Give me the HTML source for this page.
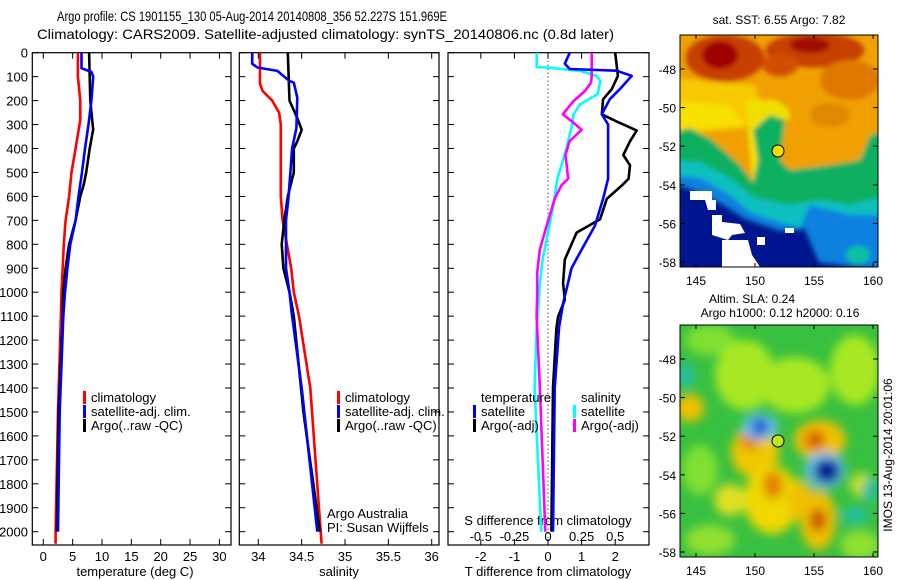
<!DOCTYPE html>
<html><head><meta charset="utf-8"><style>
html,body{margin:0;padding:0;background:#fff;width:900px;height:580px;overflow:hidden}
svg{display:block;font-family:"Liberation Sans",sans-serif;}
text{font-size:13px;fill:#000}
</style></head><body>
<svg id="chart" width="900" height="580" viewBox="0 0 900 580" xmlns="http://www.w3.org/2000/svg">
<defs>
<filter id="b1"><feGaussianBlur stdDeviation="2.5"/></filter>
<filter id="b2"><feGaussianBlur stdDeviation="5"/></filter>
<clipPath id="c1"><rect x="680" y="35" width="198" height="232"/></clipPath>
<clipPath id="c2"><rect x="680" y="325" width="198" height="232"/></clipPath>
</defs>
<text x="57" y="21" textLength="390" lengthAdjust="spacingAndGlyphs" style="font-size:14px">Argo profile: CS 1901155_130 05-Aug-2014 20140808_356 52.227S 151.969E</text>
<text x="37" y="39" textLength="577" lengthAdjust="spacingAndGlyphs" style="font-size:14px">Climatology: CARS2009. Satellite-adjusted climatology: synTS_20140806.nc (0.8d later)</text>

<!-- SST map -->
<g clip-path="url(#c1)">
 <g filter="url(#b1)">
 <rect x="670" y="25" width="220" height="260" fill="#f0a000"/>
 <ellipse cx="725" cy="58" rx="40" ry="24" fill="#c84000"/>
 <ellipse cx="720" cy="55" rx="18" ry="14" fill="#a00000"/>
 <ellipse cx="815" cy="50" rx="50" ry="18" fill="#c84000"/>
 <ellipse cx="810" cy="45" rx="20" ry="8" fill="#a01000"/>
 <ellipse cx="780" cy="65" rx="18" ry="12" fill="#d05000"/>
 <ellipse cx="850" cy="80" rx="30" ry="20" fill="#e07800"/>
 <ellipse cx="830" cy="115" rx="20" ry="12" fill="#e08800"/>
 <polygon points="670,78 755,85 760,100 745,128 670,135" fill="#f8c800"/>
 <polygon points="670,100 730,105 745,125 670,132" fill="#f8e000"/>
 <polygon points="745,100 775,100 788,108 790,120 770,118 760,140 765,175 753,185" fill="#f0e000"/>
 <polygon points="670,133 690,128 712,140 740,165 753,182 758,160 753,130 770,115 785,120 780,160 790,170 830,165 860,160 870,135 890,130 890,285 670,285" fill="#10b060"/>
 <polygon points="670,160 700,162 730,178 755,198 790,205 820,200 850,205 890,195 890,285 670,285" fill="#10c0c0"/>
 <polygon points="670,175 700,178 730,195 750,212 780,222 800,228 810,205 850,215 890,215 890,285 670,285" fill="#1080e0"/>
 <polygon points="670,182 695,190 725,205 745,218 780,230 805,228 820,262 890,270 890,285 670,285" fill="#001890"/>
 <ellipse cx="858" cy="255" rx="12" ry="9" fill="#10c0a0"/>
 </g>
 <g fill="#fff">
 <polygon points="690,191 712,191 712,200 716,200 716,210 708,210 705,200 690,200"/>
 <polygon points="712,215 722,215 722,222 740,224 745,233 732,235 728,240 712,235"/>
 <polygon points="722,240 748,240 752,255 760,267 722,267"/>
 <rect x="757" y="237" width="8" height="8"/><rect x="785" y="228" width="9" height="5"/>
 </g>
 <circle cx="778" cy="151" r="6" fill="#f0e000" stroke="#000"/>
</g>
<rect x="680" y="35" width="198" height="232" fill="none" stroke="#000"/>
<text x="779" y="24" text-anchor="middle" style="font-size:12px">sat. SST: 6.55 Argo: 7.82</text>

<!-- SLA map -->
<g clip-path="url(#c2)">
 <rect x="670" y="315" width="220" height="260" fill="#38c040"/>
 <g filter="url(#b2)">
 <ellipse cx="710" cy="340" rx="25" ry="15" fill="#80e030"/>
 <ellipse cx="745" cy="375" rx="30" ry="35" fill="#a8e820"/>
 <ellipse cx="795" cy="385" rx="35" ry="28" fill="#a8e820"/>
 <ellipse cx="855" cy="370" rx="25" ry="35" fill="#a8e820"/>
 <ellipse cx="700" cy="470" rx="18" ry="25" fill="#80e030"/>
 <ellipse cx="710" cy="540" rx="25" ry="15" fill="#90e030"/>
 <ellipse cx="860" cy="545" rx="20" ry="15" fill="#90e030"/>
 <ellipse cx="690" cy="408" rx="14" ry="14" fill="#f0c000"/>
 <ellipse cx="755" cy="452" rx="24" ry="26" fill="#f0c800"/>
 <ellipse cx="772" cy="500" rx="28" ry="34" fill="#f0d800"/>
 <ellipse cx="750" cy="440" rx="10" ry="10" fill="#e08000"/>
 <ellipse cx="773" cy="485" rx="10" ry="14" fill="#e08000"/>
 <ellipse cx="800" cy="500" rx="12" ry="20" fill="#f0c000"/>
 <ellipse cx="820" cy="440" rx="26" ry="20" fill="#f0c000"/>
 <ellipse cx="815" cy="440" rx="10" ry="10" fill="#d86000"/>
 <ellipse cx="818" cy="520" rx="18" ry="30" fill="#f0c000"/>
 <ellipse cx="818" cy="520" rx="8" ry="12" fill="#c85000"/>
 <ellipse cx="730" cy="500" rx="16" ry="16" fill="#e0e020"/>
 <ellipse cx="862" cy="485" rx="12" ry="12" fill="#d0e020"/>
 <ellipse cx="760" cy="427" rx="18" ry="13" fill="#60c0f0"/>
 <ellipse cx="760" cy="427" rx="8" ry="9" fill="#2050d0"/>
 <ellipse cx="825" cy="470" rx="20" ry="18" fill="#60c0f0"/>
 <ellipse cx="827" cy="471" rx="13" ry="12" fill="#001890"/>
 <ellipse cx="685" cy="375" rx="10" ry="12" fill="#20c0a0"/>
 <ellipse cx="855" cy="515" rx="14" ry="8" fill="#20c0a0"/>
 <ellipse cx="870" cy="490" rx="8" ry="12" fill="#20c0a0"/>
 </g>
 <circle cx="778" cy="441" r="6" fill="#c0e820" stroke="#000"/>
</g>
<rect x="680" y="325" width="198" height="232" fill="none" stroke="#000"/>
<text x="752" y="303" text-anchor="middle" style="font-size:12px">Altim. SLA: 0.24</text>
<text x="780" y="317" text-anchor="middle" style="font-size:12px">Argo h1000: 0.12 h2000: 0.16</text>
<text transform="translate(892,455) rotate(-90)" text-anchor="middle" style="font-size:12px">IMOS 13-Aug-2014 20:01:06</text>
<g id="mapaxes"></g>

<g id="panels"></g>
</svg>
<script>
const NS="http://www.w3.org/2000/svg";
const svg=document.getElementById('chart');
const G=document.getElementById('panels');
// ---- data ----
const depthTicks=[0,100,200,300,400,500,600,700,800,900,1000,1100,1200,1300,1400,1500,1600,1700,1800,1900,2000];
const tempTicks=[0,5,10,15,20,25,30];
const salTicks=[34,34.5,35,35.5,36];
const salTickLabels=['34','34.5','35','35.5','36'];
const tdiffTicks=[-2,-1,0,1,2];
const sdiffTicks=[-0.5,-0.25,0,0.25,0.5];
const sdiffTickLabels=['-0.5','-0.25','0','0.25','0.5'];
const tClimDepth=[0,100,200,280,400,500,600,700,800,900,1000,1100,1500,2000,2050];
const tClim=[5.9,5.9,6.3,6.3,5.5,4.8,4.4,3.8,3.5,3.3,3.1,3.0,2.5,2.1,2.1];
const tSatDepth=[0,65,80,100,200,300,400,500,600,700,800,900,1000,1100,1500,2000];
const tSat=[6.5,6.5,8.2,8.5,8.2,7.7,7.1,6.6,6.0,5.5,4.6,4.1,3.7,3.4,2.8,2.5];
const tArgoDepth=[0,100,200,300,320,400,500,550,600,700,800,900,1000,1100,1500,2000];
const tArgo=[7.8,7.9,8.0,8.4,8.5,7.9,7.3,6.9,6.3,5.5,4.4,3.8,3.4,3.3,2.6,2.3];
const sClimDepth=[0,130,160,200,250,300,600,700,800,900,1000,1100,1400,2000,2050];
const sClim=[34.02,34.02,34.05,34.16,34.24,34.26,34.26,34.28,34.33,34.38,34.41,34.47,34.6,34.72,34.73];
const sSatDepth=[0,46,62,76,118,125,188,315,400,500,600,700,800,900,1000,1100,1400,2000];
const sSat=[33.93,33.93,33.99,34.22,34.36,34.41,34.45,34.44,34.39,34.37,34.35,34.32,34.32,34.32,34.36,34.39,34.5,34.68];
const sArgoDepth=[0,200,273,322,370,400,500,600,700,800,900,1000,1100,1500,2000];
const sArgo=[34.34,34.36,34.45,34.50,34.45,34.41,34.41,34.34,34.30,34.27,34.29,34.36,34.41,34.52,34.71];
const dTSatDepth=[0,46,68,75,97,152,194,257,300,526,610,722,835,900,1047,1145,1400,2000];
const dTSat=[0.65,0.5,0.65,2.04,2.49,2.14,1.84,1.6,1.79,1.79,1.64,1.4,0.95,0.7,0.45,0.33,0.2,0.15];
const dTArgoDepth=[0,97,152,194,257,287,325,370,427,470,526,554,610,695,751,864,962,1032,1102,1150,1400,2000];
const dTArgo=[2.0,2.08,1.9,1.64,1.6,2.04,2.64,2.44,2.24,2.44,2.4,2.2,1.75,1.55,0.85,0.5,0.45,0.5,0.3,0.25,0.15,0.1];
const dSSatDepth=[0,60,62,76,97,118,173,215,257,300,413,526,638,751,864,962,1047,1145,1400,2000];
const dSSat=[-0.084,-0.084,-0.01,0.24,0.36,0.39,0.37,0.24,0.19,0.18,0.13,0.07,0.04,0,-0.04,-0.06,-0.07,-0.084,-0.1,-0.05];
const dSArgoDepth=[0,100,125,160,202,257,292,322,370,427,526,554,610,722,821,920,1004,1100,1400,2000];
const dSArgo=[0.325,0.325,0.32,0.275,0.19,0.11,0.19,0.25,0.16,0.13,0.15,0.1,0.05,-0.01,-0.06,-0.08,-0.08,-0.085,-0.06,-0.02];
const mapLatTicks=[-48,-50,-52,-54,-56,-58];
const mapLonTicks=[145,150,155,160];

// ---- axes ----
const Y0=52.7, KY=0.2395, PB=545;
const yD=d=>Y0+d*KY;
const xT=t=>43.3+t*5.87;
const xS=s=>258.3+(s-34)*86.7;
const xDT=t=>548+t*33.6;
const xDS=s=>548+s*134.4;
const mx=lon=>696+(lon-145)*11.8;

function el(tag,attrs,parent){const e=document.createElementNS(NS,tag);for(const k in attrs)e.setAttribute(k,attrs[k]);(parent||G).appendChild(e);return e;}
function txt(x,y,s,anchor,parent,size){const t=el('text',{x:x,y:y,'text-anchor':anchor||'start'},parent);if(size)t.style.fontSize=size+'px';t.textContent=s;return t;}

const panels=[[32.3,231],[239.3,439],[448,649]];
panels.forEach((p,i)=>{
  const r=el('rect',{x:p[0],y:Y0,width:p[1]-p[0],height:PB-Y0,fill:'none',stroke:'#000','stroke-width':1.2});
  
  
  depthTicks.forEach(d=>{
    el('line',{x1:p[0],x2:p[0]+6,y1:yD(d),y2:yD(d),stroke:'#000'});
    el('line',{x1:p[1],x2:p[1]-6,y1:yD(d),y2:yD(d),stroke:'#000'});
  });
});
depthTicks.forEach(d=>{
  const t=txt(28,yD(d)+5,String(d),'end');
  
  
});
function xticks(vals,fx,labels,ly,name){
  vals.forEach((v,i)=>{
    const x=fx(v);
    el('line',{x1:x,x2:x,y1:PB,y2:PB-6,stroke:'#000'});
    el('line',{x1:x,x2:x,y1:Y0,y2:Y0+6,stroke:'#000'});
    if(labels){const t=txt(x,ly,labels[i],'middle');
      
      }
  });
}
xticks(tempTicks,xT,tempTicks.map(String),561,'temperature-tick-label');
xticks(salTicks,xS,salTickLabels,561,'salinity-tick-label');
xticks(tdiffTicks,xDT,tdiffTicks.map(String),561,'t-diff-tick-label');
sdiffTicks.forEach((v,i)=>{const t=txt(xDS(v),541,sdiffTickLabels[i],'middle');
  
  });
[[135,'temperature (deg C)','x-axis-title-temperature'],[339,'salinity','x-axis-title-salinity'],[548,'T difference from climatology','x-axis-title-t-diff']].forEach(a=>{
  const t=txt(a[0],576,a[1],'middle');
  
  });
const st=txt(548,525,'S difference from climatology','middle');


const zl=el('line',{x1:xDT(0),x2:xDT(0),y1:Y0,y2:PB,stroke:'#000','stroke-dasharray':'1,3'});



// ---- series ----
function series(depths,vals,fx,color,name){
  const pts=depths.map((d,i)=>fx(vals[i]).toFixed(1)+','+yD(d).toFixed(1)).join(' ');
  const l=el('polyline',{points:pts,fill:'none',stroke:color,'stroke-width':2.6,'stroke-linejoin':'round'});
  
  
}
series(tClimDepth,tClim,xT,'#ff0000','temp-climatology-line');
series(tArgoDepth,tArgo,xT,'#000000','temp-argo-line');
series(tSatDepth,tSat,xT,'#0000ff','temp-satellite-line');
series(sClimDepth,sClim,xS,'#ff0000','sal-climatology-line');
series(sArgoDepth,sArgo,xS,'#000000','sal-argo-line');
series(sSatDepth,sSat,xS,'#0000ff','sal-satellite-line');
series(dSSatDepth,dSSat,xDS,'#00ffff','s-diff-satellite-line');
series(dSArgoDepth,dSArgo,xDS,'#ff00ff','s-diff-argo-line');
series(dTArgoDepth,dTArgo,xDT,'#000000','t-diff-argo-line');
series(dTSatDepth,dTSat,xDT,'#0000ff','t-diff-satellite-line');

// ---- legends ----
function legend(x,y,color,label,name){
  const b=el('rect',{x:x,y:y-11,width:3,height:13,fill:color});
  
  
  const t=txt(x+8,y,label,'start');
  
  
}
legend(83,402,'#ff0000','climatology','legend-temp-climatology');
legend(83,416,'#0000ff','satellite-adj. clim.','legend-temp-satellite');
legend(83,430,'#000000','Argo(..raw -QC)','legend-temp-argo');
legend(337,402,'#ff0000','climatology','legend-sal-climatology');
legend(337,416,'#0000ff','satellite-adj. clim.','legend-sal-satellite');
legend(337,430,'#000000','Argo(..raw -QC)','legend-sal-argo');
const lt=txt(481,402,'temperature');
const ls=txt(581,402,'salinity');
legend(473,416,'#0000ff','satellite','legend-t-diff-satellite');
legend(473,430,'#000000','Argo(-adj)','legend-t-diff-argo');
legend(573,416,'#00ffff','satellite','legend-s-diff-satellite');
legend(573,430,'#ff00ff','Argo(-adj)','legend-s-diff-argo');
const a1=txt(327,518,'Argo Australia');
const a2=txt(327,532,'PI: Susan Wijffels');

// ---- map axes ----
const MA=document.getElementById('mapaxes');
[35,325].forEach((top,k)=>{
  mapLatTicks.forEach(lat=>{
    const y=top+34+(-48-lat)*19.3;
    el('line',{x1:680,x2:685,y1:y,y2:y,stroke:'#000'},MA);
    el('line',{x1:878,x2:873,y1:y,y2:y,stroke:'#000'},MA);
    const t=txt(676,y+5,String(lat),'end',MA,12);
    
    
  });
  mapLonTicks.forEach(lon=>{
    const x=mx(lon);
    el('line',{x1:x,x2:x,y1:top,y2:top+4,stroke:'#000'},MA);
    el('line',{x1:x,x2:x,y1:top+232,y2:top+228,stroke:'#000'},MA);
    const t=txt(x,top+250,String(lon),'middle',MA,12);
    
    
  });
});
</script>
</body></html>
